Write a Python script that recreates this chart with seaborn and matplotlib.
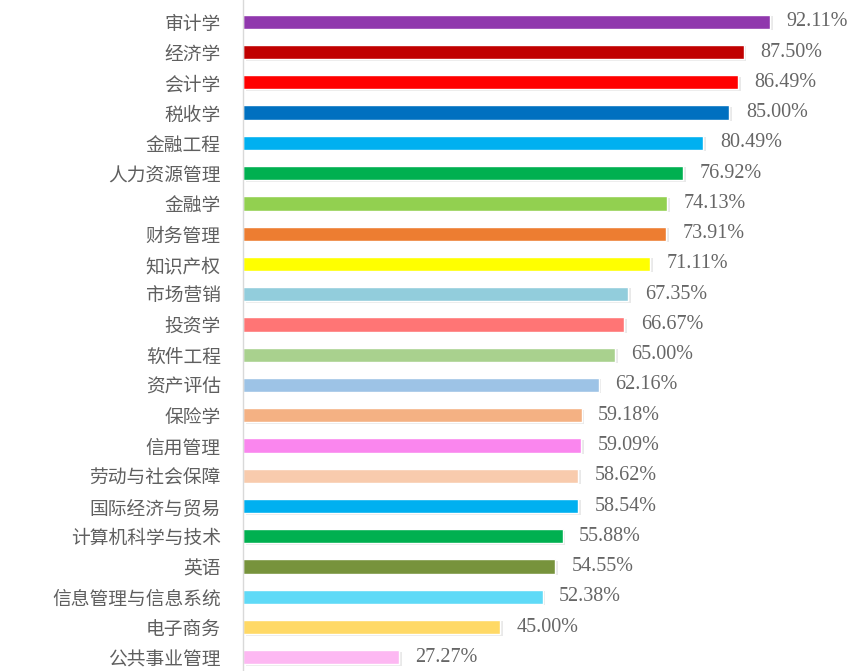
import matplotlib
matplotlib.use('Agg')
import matplotlib.pyplot as plt
import matplotlib.patheffects as pe
import seaborn as sns
import pandas as pd

# data
majors = ['审计学', '经济学', '会计学', '税收学', '金融工程', '人力资源管理', '金融学',
          '财务管理', '知识产权', '市场营销', '投资学', '软件工程', '资产评估', '保险学',
          '信用管理', '劳动与社会保障', '国际经济与贸易', '计算机科学与技术', '英语',
          '信息管理与信息系统', '电子商务', '公共事业管理']
rates = [92.11, 87.50, 86.49, 85.00, 80.49, 76.92, 74.13, 73.91, 71.11, 67.35, 66.67,
         65.00, 62.16, 59.18, 59.09, 58.62, 58.54, 55.88, 54.55, 52.38, 45.00, 27.27]
bar_colors = ['#9038AD', '#C00000', '#FF0000', '#0070C0', '#00B0F0', '#00B050', '#92D050',
              '#ED7D31', '#FFFF00', '#92CDDC', '#FF7575', '#A9D18E', '#9DC3E6', '#F4B183',
              '#FA86EE', '#F8CBAD', '#00B0F0', '#00B050', '#77933C', '#5FDAF7', '#FFD966',
              '#FDB8F2']

df = pd.DataFrame({'major': majors, 'rate': rates})

sns.set_theme(style='white')
plt.rcParams['font.family'] = ['Noto Sans CJK SC', 'DejaVu Sans']

fig = plt.figure(figsize=(8.56, 6.71), dpi=100)
fig.patch.set_facecolor('white')
ax = fig.add_axes([243 / 856, 0, 572 / 856, 1])

sns.barplot(data=df, y='major', x='rate', hue='major', palette=dict(zip(majors, bar_colors)),
            orient='h', width=0.47, legend=False, ax=ax, saturation=1)

# soft glow to the right of each bar
for bar in ax.patches:
    bar.set_path_effects([pe.SimplePatchShadow(offset=(2, -1), shadow_rgbFace='#e4e4e4', alpha=0.8),
                          pe.Normal()])

ax.set_xlim(0, 100)
ax.set_ylim(21.45, -0.72)
ax.set_xlabel('')
ax.set_ylabel('')
ax.set_xticks([])
ax.tick_params(axis='y', length=0, pad=16, labelsize=13.5, labelcolor='#5f5f5f')

for sp in ['top', 'right', 'bottom']:
    ax.spines[sp].set_visible(False)
ax.spines['left'].set_color('#d9d9d9')
ax.spines['left'].set_linewidth(1)

# value labels
for i, v in enumerate(rates):
    ax.text(v + 2.9, i, f'{v:.2f}%', va='center', ha='left', fontsize=14.5,
            family='Liberation Serif', color='#666666', clip_on=False)

fig.savefig('out.png', dpi=100, facecolor='white')
